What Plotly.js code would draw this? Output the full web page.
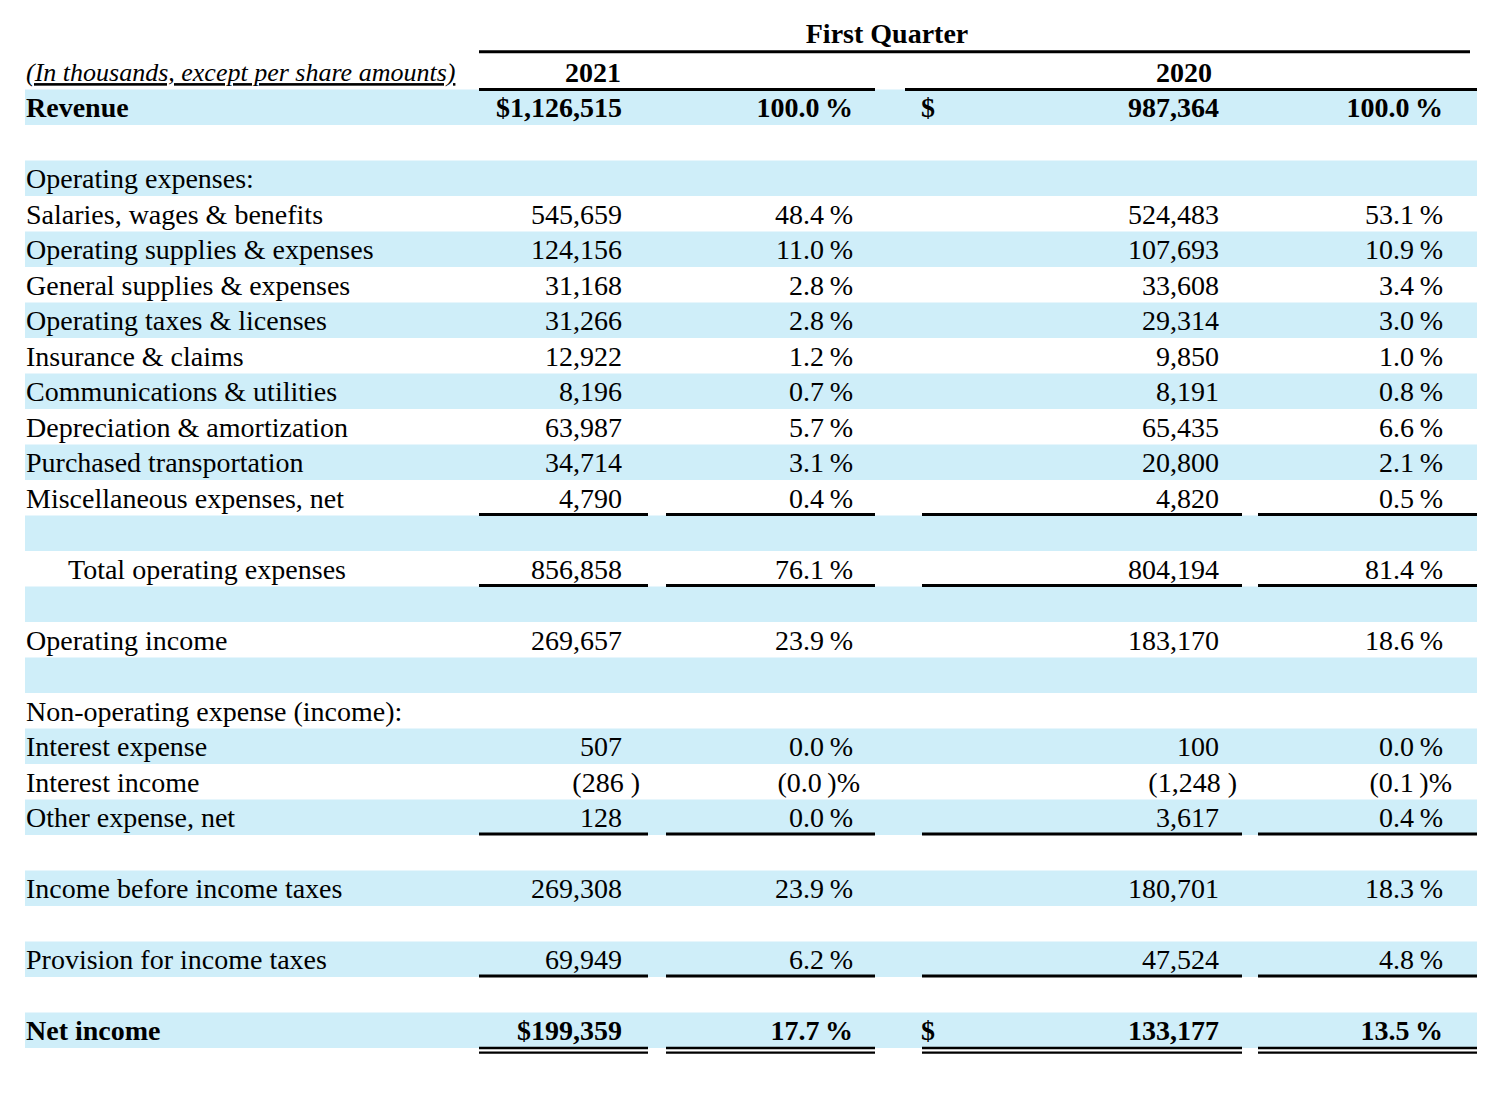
<!DOCTYPE html>
<html><head><meta charset="utf-8">
<script src="https://cdn.plot.ly/plotly-3.0.1.min.js"></script>
<style>html,body{margin:0;padding:0;background:#fff}#chart{width:1500px;height:1110px}</style>
</head><body><div id="chart"></div>
<script>
// ---------------- DATA ----------------
const periodTitle = "First Quarter";
const yearLabels = ["2021", "2020"];
const unitsNote = "(In thousands, except per share amounts)";

const lineItems = [
  "Revenue",
  "Operating expenses:",
  "Salaries, wages & benefits",
  "Operating supplies & expenses",
  "General supplies & expenses",
  "Operating taxes & licenses",
  "Insurance & claims",
  "Communications & utilities",
  "Depreciation & amortization",
  "Purchased transportation",
  "Miscellaneous expenses, net",
  "Total operating expenses",
  "Operating income",
  "Non-operating expense (income):",
  "Interest expense",
  "Interest income",
  "Other expense, net",
  "Income before income taxes",
  "Provision for income taxes",
  "Net income"
];
const amount2021 = [1126515, null, 545659, 124156, 31168, 31266, 12922, 8196, 63987, 34714, 4790,
  856858, 269657, null, 507, -286, 128, 269308, 69949, 199359];
const percent2021 = [100.0, null, 48.4, 11.0, 2.8, 2.8, 1.2, 0.7, 5.7, 3.1, 0.4,
  76.1, 23.9, null, 0.0, -0.0, 0.0, 23.9, 6.2, 17.7];
const amount2020 = [987364, null, 524483, 107693, 33608, 29314, 9850, 8191, 65435, 20800, 4820,
  804194, 183170, null, 100, -1248, 3617, 180701, 47524, 133177];
const percent2020 = [100.0, null, 53.1, 10.9, 3.4, 3.0, 1.0, 0.8, 6.6, 2.1, 0.5,
  81.4, 18.6, null, 0.0, -0.1, 0.4, 18.3, 4.8, 13.5];
const boldItems = ["Revenue", "Net income"];
const dollarItems = ["Revenue", "Net income"];
const indentedItems = ["Total operating expenses"];

// ---------------- LAYOUT STRUCTURE ----------------
const rowOrder = ["#title", "#years", "Revenue", "#s1", "Operating expenses:",
  "Salaries, wages & benefits", "Operating supplies & expenses", "General supplies & expenses",
  "Operating taxes & licenses", "Insurance & claims", "Communications & utilities",
  "Depreciation & amortization", "Purchased transportation", "Miscellaneous expenses, net", "#s2",
  "Total operating expenses", "#s3", "Operating income", "#s4", "Non-operating expense (income):",
  "Interest expense", "Interest income", "Other expense, net", "#s5", "Income before income taxes",
  "#s6", "Provision for income taxes", "#s7", "Net income"];
const underlinedAfter = ["Miscellaneous expenses, net", "Total operating expenses",
  "Other expense, net", "Provision for income taxes"];
const doubleUnderlinedAfter = ["Net income"];

const COL = {label: 26, indent: 68, a: 622, aParen: 640, b: 853, bParen: 860,
  dollar: 921, d: 1219, dParen: 1237, e: 1443, eParen: 1452};
const SEGMENTS = [[479, 648], [666, 875], [922, 1242], [1258, 1477]];
const BAND = '#CFEEF9';
const TEXT_SHIFT = 0.08;
const TITLE_SHIFT = -0.02;
const FONT = {family: 'Liberation Serif, Times New Roman, serif', size: 28, color: '#000'};
const NOTE_FONT = {family: 'Liberation Serif, Times New Roman, serif', size: 26, color: '#000'};

const isNeg = v => v < 0 || Object.is(v, -0);
const fmtAmt = v => isNeg(v) ? '(' + Math.abs(v).toLocaleString('en-US') + ' )' : v.toLocaleString('en-US');
const fmtPct = v => isNeg(v) ? '(' + Math.abs(v).toFixed(1) + '\u2009)%' : v.toFixed(1) + '\u2009%';
const rowY = name => rowOrder.indexOf(name) + TEXT_SHIFT;
const bold = (name, s) => boldItems.includes(name) ? '<b>' + s + '</b>' : s;

function textTrace(xs, ys, texts, pos, font) {
  return {type: 'scatter', mode: 'text', x: xs, y: ys, text: texts, textposition: pos,
    textfont: font || FONT, hoverinfo: 'skip', showlegend: false, cliponaxis: false};
}

const traces = [];
// labels
traces.push(textTrace(
  lineItems.map(n => indentedItems.includes(n) ? COL.indent : COL.label),
  lineItems.map(rowY),
  lineItems.map(n => bold(n, n.replace(/&/g, '&amp;'))),
  'middle right'));
// 2021 amounts
{
  const xs = [], ys = [], ts = [];
  lineItems.forEach((n, i) => {
    const v = amount2021[i]; if (v === null) return;
    let s = fmtAmt(v);
    if (dollarItems.includes(n)) s = '$' + s;
    xs.push(isNeg(v) ? COL.aParen : COL.a); ys.push(rowY(n)); ts.push(bold(n, s));
  });
  traces.push(textTrace(xs, ys, ts, 'middle left'));
}
// 2021 percents
{
  const xs = [], ys = [], ts = [];
  lineItems.forEach((n, i) => {
    const v = percent2021[i]; if (v === null) return;
    xs.push(isNeg(v) ? COL.bParen : COL.b); ys.push(rowY(n)); ts.push(bold(n, fmtPct(v)));
  });
  traces.push(textTrace(xs, ys, ts, 'middle left'));
}
// 2020 dollar signs
traces.push(textTrace(dollarItems.map(() => COL.dollar), dollarItems.map(rowY),
  dollarItems.map(n => bold(n, '$')), 'middle right'));
// 2020 amounts
{
  const xs = [], ys = [], ts = [];
  lineItems.forEach((n, i) => {
    const v = amount2020[i]; if (v === null) return;
    xs.push(isNeg(v) ? COL.dParen : COL.d); ys.push(rowY(n)); ts.push(bold(n, fmtAmt(v)));
  });
  traces.push(textTrace(xs, ys, ts, 'middle left'));
}
// 2020 percents
{
  const xs = [], ys = [], ts = [];
  lineItems.forEach((n, i) => {
    const v = percent2020[i]; if (v === null) return;
    xs.push(isNeg(v) ? COL.eParen : COL.e); ys.push(rowY(n)); ts.push(bold(n, fmtPct(v)));
  });
  traces.push(textTrace(xs, ys, ts, 'middle left'));
}
// headers
traces.push(textTrace([887], [rowOrder.indexOf('#title') + TITLE_SHIFT], ['<b>' + periodTitle + '</b>'], 'middle center'));
traces.push(textTrace([593, 1184], [rowY('#years'), rowY('#years')],
  yearLabels.map(y => '<b>' + y + '</b>'), 'middle center'));
traces.push(textTrace([COL.label], [rowY('#years')], ['<i><u>' + unitsNote + '</u></i>'], 'middle right', NOTE_FONT));

// shapes
const shapes = [];
rowOrder.forEach((n, i) => {
  if (i >= 2 && i % 2 === 0) {
    shapes.push({type: 'rect', layer: 'below', xref: 'x', yref: 'y', x0: 25, x1: 1477,
      y0: i - 0.5, y1: i + 0.5, fillcolor: BAND, line: {width: 0}});
  }
});
function hline(x0, x1, y, w) {
  shapes.push({type: 'line', xref: 'x', yref: 'y', x0: x0, x1: x1, y0: y, y1: y,
    line: {color: '#000', width: w}});
}
const idx = n => rowOrder.indexOf(n);
hline(479, 1470, 0.44, 3);
hline(479, 875, 1.5, 3);
hline(905, 1477, 1.5, 3);
underlinedAfter.forEach(n => SEGMENTS.forEach(s => hline(s[0], s[1], idx(n) + 0.47, 3)));
doubleUnderlinedAfter.forEach(n => SEGMENTS.forEach(s => {
  hline(s[0], s[1], idx(n) + 0.5, 2.4);
  hline(s[0], s[1], idx(n) + 0.63, 2.4);
}));

const layout = {
  width: 1500, height: 1110,
  margin: {l: 0, r: 0, t: 0, b: 0},
  paper_bgcolor: '#fff', plot_bgcolor: '#fff',
  showlegend: false,
  xaxis: {range: [0, 1500], visible: false, fixedrange: true},
  yaxis: {range: [30.2465, -1.0211], visible: false, fixedrange: true},
  shapes: shapes,
  font: FONT
};
Plotly.newPlot('chart', traces, layout, {displayModeBar: false, staticPlot: true});
</script></body></html>
